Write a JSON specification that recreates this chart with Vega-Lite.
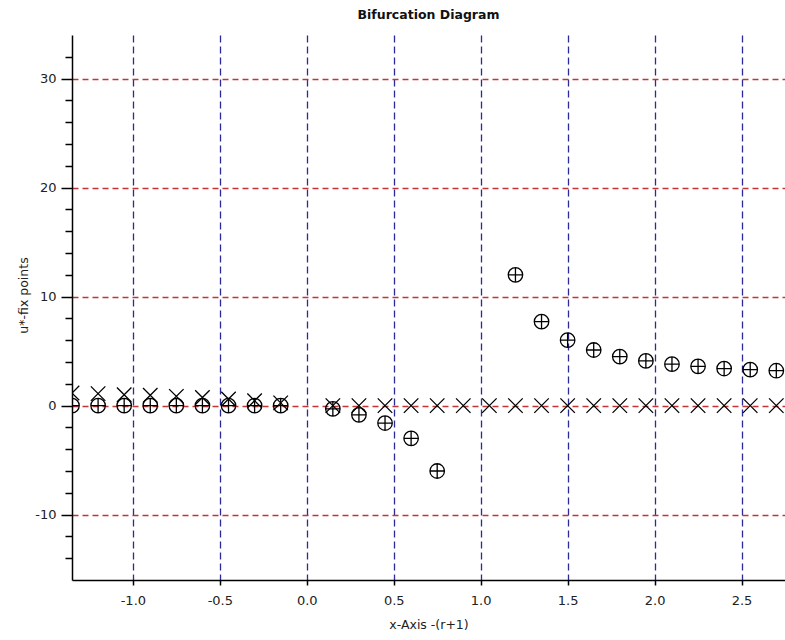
{
  "$schema": "https://vega.github.io/schema/vega-lite/v6.json",
  "autosize": "none",
  "width": 713,
  "height": 545,
  "padding": {"left": 72, "top": 35, "right": 0, "bottom": 60},
  "background": "white",
  "title": {"text": "Bifurcation Diagram", "fontSize": 12.5, "fontWeight": "bold", "font": "DejaVu Sans", "color": "#111", "offset": 14, "anchor": "middle"},
  "config": {
    "view": {"stroke": null},
    "axis": {"labelFont": "DejaVu Sans", "titleFont": "DejaVu Sans", "labelFontSize": 13, "titleFontSize": 12.5, "titleFontWeight": "normal", "labelColor": "#222", "titleColor": "#222", "domainColor": "#000", "tickColor": "#000", "domainWidth": 1.5, "tickWidth": 1.5}
  },
  "data": {"values": [
    {"x": -1.35, "u": 0, "kind": "stable"},
    {"x": -1.2, "u": 0, "kind": "stable"},
    {"x": -1.05, "u": 0, "kind": "stable"},
    {"x": -0.9, "u": 0, "kind": "stable"},
    {"x": -0.75, "u": 0, "kind": "stable"},
    {"x": -0.6, "u": 0, "kind": "stable"},
    {"x": -0.45, "u": 0, "kind": "stable"},
    {"x": -0.3, "u": 0, "kind": "stable"},
    {"x": -0.15, "u": 0, "kind": "stable"},
    {"x": 0.15, "u": -0.3, "kind": "stable"},
    {"x": 0.3, "u": -0.85, "kind": "stable"},
    {"x": 0.45, "u": -1.6, "kind": "stable"},
    {"x": 0.6, "u": -3.0, "kind": "stable"},
    {"x": 0.75, "u": -6.0, "kind": "stable"},
    {"x": 1.2, "u": 12.0, "kind": "stable"},
    {"x": 1.35, "u": 7.7, "kind": "stable"},
    {"x": 1.5, "u": 6.0, "kind": "stable"},
    {"x": 1.65, "u": 5.1, "kind": "stable"},
    {"x": 1.8, "u": 4.5, "kind": "stable"},
    {"x": 1.95, "u": 4.1, "kind": "stable"},
    {"x": 2.1, "u": 3.8, "kind": "stable"},
    {"x": 2.25, "u": 3.6, "kind": "stable"},
    {"x": 2.4, "u": 3.4, "kind": "stable"},
    {"x": 2.55, "u": 3.3, "kind": "stable"},
    {"x": 2.7, "u": 3.2, "kind": "stable"},
    {"x": -1.35, "u": 1.15, "kind": "unstable"},
    {"x": -1.2, "u": 1.1, "kind": "unstable"},
    {"x": -1.05, "u": 1.0, "kind": "unstable"},
    {"x": -0.9, "u": 0.95, "kind": "unstable"},
    {"x": -0.75, "u": 0.85, "kind": "unstable"},
    {"x": -0.6, "u": 0.75, "kind": "unstable"},
    {"x": -0.45, "u": 0.6, "kind": "unstable"},
    {"x": -0.3, "u": 0.45, "kind": "unstable"},
    {"x": -0.15, "u": 0.25, "kind": "unstable"},
    {"x": 0.15, "u": 0, "kind": "unstable"},
    {"x": 0.3, "u": 0, "kind": "unstable"},
    {"x": 0.45, "u": 0, "kind": "unstable"},
    {"x": 0.6, "u": 0, "kind": "unstable"},
    {"x": 0.75, "u": 0, "kind": "unstable"},
    {"x": 0.9, "u": 0, "kind": "unstable"},
    {"x": 1.05, "u": 0, "kind": "unstable"},
    {"x": 1.2, "u": 0, "kind": "unstable"},
    {"x": 1.35, "u": 0, "kind": "unstable"},
    {"x": 1.5, "u": 0, "kind": "unstable"},
    {"x": 1.65, "u": 0, "kind": "unstable"},
    {"x": 1.8, "u": 0, "kind": "unstable"},
    {"x": 1.95, "u": 0, "kind": "unstable"},
    {"x": 2.1, "u": 0, "kind": "unstable"},
    {"x": 2.25, "u": 0, "kind": "unstable"},
    {"x": 2.4, "u": 0, "kind": "unstable"},
    {"x": 2.55, "u": 0, "kind": "unstable"},
    {"x": 2.7, "u": 0, "kind": "unstable"}
  ]},
  "mark": {"type": "point", "clip": true, "filled": false, "stroke": "#000", "strokeWidth": 1.3, "opacity": 1, "size": 210},
  "encoding": {
    "x": {
      "field": "x", "type": "quantitative",
      "scale": {"domain": [-1.35, 2.75], "nice": false, "zero": false},
      "axis": {
        "title": "x-Axis -(r+1)",
        "values": [-1, -0.5, 0, 0.5, 1, 1.5, 2, 2.5],
        "format": ".1f",
        "labelExpr": "replace(datum.label, '\u2212', '-')",
        "tickSize": 5,
        "labelPadding": 9,
        "titlePadding": 11,
        "grid": true, "gridColor": "#2a2a9a", "gridDash": [7, 4], "gridWidth": 1.3
      }
    },
    "y": {
      "field": "u", "type": "quantitative",
      "scale": {"domain": [-16, 34], "nice": false, "zero": false},
      "axis": {
        "title": "u*-fix points",
        "titleY": 260,
        "values": [-14, -12, -10, -8, -6, -4, -2, 0, 2, 4, 6, 8, 10, 12, 14, 16, 18, 20, 22, 24, 26, 28, 30, 32],
        "labelExpr": "datum.value % 10 === 0 ? replace(datum.label, '\u2212', '-') : ''",
        "tickSize": {"condition": {"test": "datum.value % 10 === 0", "value": 11}, "value": 7},
        "labelPadding": 5,
        "titlePadding": 4,
        "grid": true, "gridColor": "#c43434", "gridDash": [6, 4], "gridWidth": 1.3,
        "gridOpacity": {"condition": {"test": "datum.value % 10 === 0", "value": 1}, "value": 0}
      }
    },
    "shape": {
      "field": "kind", "type": "nominal",
      "scale": {"domain": ["stable", "unstable"], "range": ["M-1,0A1,1,0,1,0,1,0A1,1,0,1,0,-1,0ZM-1,0L1,0M0,-1L0,1", "M-1,-1L1,1M-1,1L1,-1"]},
      "legend": null
    }
  }
}
